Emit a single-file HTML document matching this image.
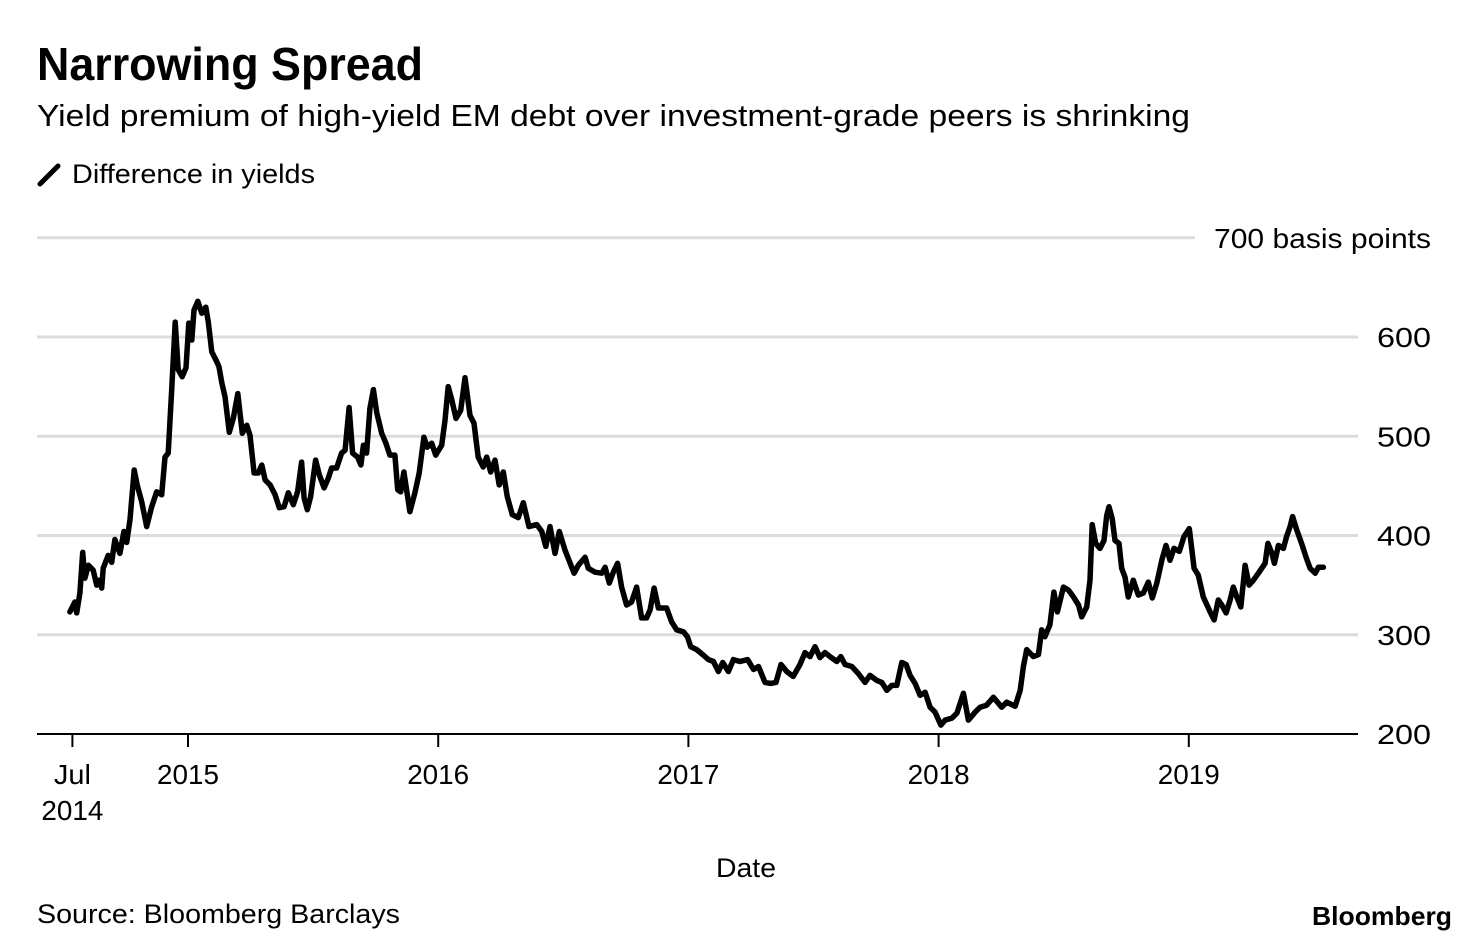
<!DOCTYPE html>
<html><head><meta charset="utf-8"><style>
html,body{margin:0;padding:0;background:#fff;}
svg{display:block;font-family:"Liberation Sans",Arial,sans-serif;}
</style></head><body>
<svg id="chart" width="1480" height="946" viewBox="0 0 1480 946">
<text x="37" y="80" font-size="46" font-weight="bold" fill="#000" textLength="386" lengthAdjust="spacingAndGlyphs">Narrowing Spread</text>
<text x="37" y="126" font-size="31" fill="#000" textLength="1153" lengthAdjust="spacingAndGlyphs">Yield premium of high-yield EM debt over investment-grade peers is shrinking</text>
<g>
<line x1="40" y1="184" x2="58" y2="166" stroke="#000" stroke-width="5" stroke-linecap="round"/>
<text x="72" y="183" font-size="27" fill="#000" textLength="243" lengthAdjust="spacingAndGlyphs">Difference in yields</text>
</g>
<g id="grid"></g>
<g id="yticks"></g>
<g id="xaxis"></g>
<path id="line" fill="none" stroke="#000" stroke-width="5.5" stroke-linejoin="round" stroke-linecap="round"/>
<text x="716" y="877" font-size="27" fill="#000" textLength="60" lengthAdjust="spacingAndGlyphs">Date</text>
<text x="37" y="923" font-size="27" fill="#000" textLength="363" lengthAdjust="spacingAndGlyphs">Source: Bloomberg Barclays</text>
<text x="1312" y="925" font-size="26" font-weight="bold" fill="#000" textLength="140" lengthAdjust="spacingAndGlyphs">Bloomberg</text>
</svg>
<script>
const yTicks=[200,300,400,500,600,700];
const yTickLabels=["200","300","400","500","600","700 basis points"];
const xTicks=[2014.538,2015,2016,2017,2018,2019];
const xTickLabels=[["Jul","2014"],["2015"],["2016"],["2017"],["2018"],["2019"]];
const dates=[2014.528,2014.548,2014.555,2014.568,2014.579,2014.588,2014.602,2014.621,2014.635,2014.645,2014.655,2014.661,2014.681,2014.695,2014.708,2014.728,2014.744,2014.755,2014.768,2014.785,2014.797,2014.815,2014.835,2014.855,2014.875,2014.895,2014.908,2014.921,2014.935,2014.949,2014.961,2014.977,2014.992,2015.003,2015.015,2015.024,2015.039,2015.055,2015.071,2015.081,2015.095,2015.115,2015.124,2015.135,2015.148,2015.165,2015.181,2015.199,2015.217,2015.235,2015.248,2015.264,2015.281,2015.295,2015.308,2015.328,2015.348,2015.365,2015.384,2015.401,2015.421,2015.438,2015.454,2015.464,2015.477,2015.490,2015.510,2015.525,2015.544,2015.561,2015.574,2015.594,2015.614,2015.628,2015.644,2015.658,2015.678,2015.691,2015.701,2015.714,2015.727,2015.741,2015.754,2015.774,2015.791,2015.807,2015.827,2015.838,2015.850,2015.863,2015.887,2015.907,2015.924,2015.943,2015.956,2015.974,2015.990,2016.014,2016.027,2016.040,2016.054,2016.071,2016.090,2016.107,2016.127,2016.143,2016.160,2016.180,2016.194,2016.210,2016.227,2016.244,2016.260,2016.276,2016.296,2016.320,2016.340,2016.363,2016.394,2016.414,2016.430,2016.447,2016.467,2016.484,2016.507,2016.543,2016.560,2016.587,2016.600,2016.627,2016.654,2016.667,2016.684,2016.700,2016.717,2016.733,2016.753,2016.773,2016.793,2016.813,2016.833,2016.847,2016.863,2016.880,2016.913,2016.933,2016.953,2016.980,2016.996,2017.009,2017.033,2017.057,2017.080,2017.100,2017.120,2017.137,2017.160,2017.180,2017.206,2017.237,2017.260,2017.280,2017.306,2017.329,2017.350,2017.370,2017.393,2017.419,2017.446,2017.466,2017.486,2017.506,2017.526,2017.546,2017.566,2017.593,2017.609,2017.626,2017.653,2017.679,2017.706,2017.726,2017.753,2017.773,2017.793,2017.813,2017.833,2017.853,2017.870,2017.886,2017.906,2017.926,2017.946,2017.966,2017.986,2018.009,2018.026,2018.053,2018.073,2018.099,2018.119,2018.146,2018.166,2018.192,2018.219,2018.252,2018.272,2018.306,2018.326,2018.339,2018.352,2018.379,2018.399,2018.412,2018.425,2018.445,2018.461,2018.475,2018.499,2018.519,2018.539,2018.559,2018.572,2018.592,2018.605,2018.614,2018.628,2018.645,2018.661,2018.672,2018.681,2018.694,2018.705,2018.721,2018.732,2018.745,2018.758,2018.778,2018.798,2018.818,2018.838,2018.854,2018.872,2018.892,2018.909,2018.925,2018.941,2018.962,2018.981,2019.002,2019.021,2019.038,2019.058,2019.085,2019.101,2019.118,2019.132,2019.149,2019.165,2019.178,2019.192,2019.208,2019.225,2019.241,2019.258,2019.278,2019.305,2019.316,2019.332,2019.342,2019.358,2019.378,2019.391,2019.405,2019.415,2019.431,2019.451,2019.469,2019.485,2019.505,2019.518,2019.538];
const spreads=[323,333,322,342,383,357,370,365,350,355,347,367,380,373,396,382,404,393,416,466,451,434,409,429,444,441,479,483,547,615,567,560,569,614,597,627,636,624,630,615,585,575,570,554,540,504,518,543,503,511,501,463,463,471,456,451,441,428,429,443,431,444,474,438,426,439,476,461,448,458,468,468,483,486,529,483,479,471,491,483,528,547,524,503,493,481,481,446,444,464,424,443,463,499,489,493,481,491,516,550,537,518,526,559,521,513,479,469,479,464,476,451,464,439,421,418,433,409,411,404,389,409,382,404,385,362,370,378,367,363,362,368,352,363,372,348,330,333,348,317,317,325,347,327,327,313,305,303,298,288,285,280,275,273,263,272,263,275,273,275,265,268,252,251,252,270,263,258,270,282,278,288,277,282,278,273,278,270,268,261,252,259,254,252,244,249,249,272,270,259,251,239,242,227,222,209,214,216,221,241,214,222,227,229,237,227,232,228,244,268,285,278,280,305,298,310,343,323,348,345,338,330,318,328,355,411,392,387,395,420,429,417,395,392,367,358,338,355,340,342,353,337,352,375,390,375,387,384,399,407,367,360,338,323,315,335,330,322,335,348,338,328,370,350,355,362,372,392,382,372,390,387,399,409,419,406,392,378,367,362,368,368];

const NS="http://www.w3.org/2000/svg";
function xScale(t){return 188+(t-2015)*250.2;}
function yScale(v){return 734-(v-200)*0.9925;}

const grid=document.getElementById('grid');
const yt=document.getElementById('yticks');
yTicks.forEach((v,i)=>{
  if(v===200) return;
  const l=document.createElementNS(NS,'line');
  l.setAttribute('x1',37);l.setAttribute('x2',v===700?1195:1358);
  l.setAttribute('y1',yScale(v));l.setAttribute('y2',yScale(v));
  l.setAttribute('stroke','#dcdcdc');l.setAttribute('stroke-width',3);
  
  
  grid.appendChild(l);
});
yTicks.forEach((v,i)=>{
  const t=document.createElementNS(NS,'text');
  const lab=yTickLabels[i];
  const w=lab.length>3?217:54;
  t.setAttribute('x',1431-w);t.setAttribute('y',yScale(v)+10);
  t.setAttribute('font-size','28');
  t.setAttribute('textLength',w);t.setAttribute('lengthAdjust','spacingAndGlyphs');
  t.textContent=lab;
  
  
  yt.appendChild(t);
});
const xa=document.getElementById('xaxis');
const base=document.createElementNS(NS,'line');
base.setAttribute('x1',37);base.setAttribute('x2',1358);base.setAttribute('y1',734);base.setAttribute('y2',734);
base.setAttribute('stroke','#000');base.setAttribute('stroke-width',2);


xa.appendChild(base);
xTicks.forEach((d,i)=>{
  const x=xScale(d);
  const tk=document.createElementNS(NS,'line');
  tk.setAttribute('x1',x);tk.setAttribute('x2',x);tk.setAttribute('y1',734);tk.setAttribute('y2',747);
  tk.setAttribute('stroke','#000');tk.setAttribute('stroke-width',2);
  
  
  xa.appendChild(tk);
  xTickLabels[i].forEach((s,j)=>{
    const t=document.createElementNS(NS,'text');
    const w=s.length===3?37:62;
    t.setAttribute('x',x-w/2);t.setAttribute('y',784+j*36);
    t.setAttribute('font-size','28');
    t.setAttribute('textLength',w);t.setAttribute('lengthAdjust','spacingAndGlyphs');
    t.textContent=s;
    
    
    xa.appendChild(t);
  });
});
let d='';
dates.forEach((t,i)=>{d+=(i?'L':'M')+xScale(t).toFixed(1)+','+yScale(spreads[i]).toFixed(1);});
document.getElementById('line').setAttribute('d',d);
</script>
</body></html>
